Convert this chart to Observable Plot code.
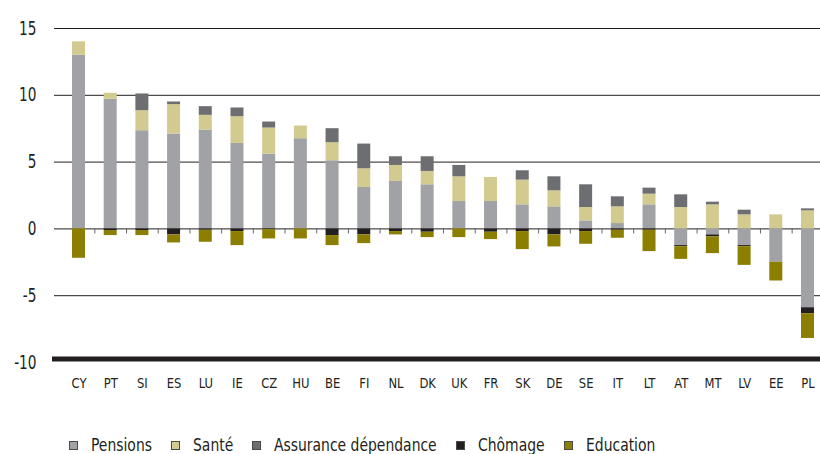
<!DOCTYPE html>
<html>
<head>
<meta charset="utf-8">
<script src="https://cdn.jsdelivr.net/npm/d3@7"></script>
<script src="https://cdn.jsdelivr.net/npm/@observablehq/plot@0.6"></script>
<style>
  html, body { margin: 0; padding: 0; background: #fff; }
  body { width: 820px; height: 454px; overflow: hidden; font-family: 'DejaVu Sans Condensed', 'DejaVu Sans', sans-serif; font-stretch: condensed; color: #231f20; }
  #legend { display: flex; align-items: center; margin-top: 35px; padding-left: 69px; font-size: 18px; line-height: 20px; white-space: nowrap; }
  .item { display: flex; align-items: center; margin-right: 19px; }
  .sw { width: 7px; height: 7px; border: 1px solid #4a4a4a; margin-right: 13px; flex: none; }
  .lbl { display: inline-block; transform-origin: left center; }
</style>
</head>
<body>
<div id="chart"></div>
<div id="legend"></div>
<script>
const categories = ["CY","PT","SI","ES","LU","IE","CZ","HU","BE","FI","NL","DK","UK","FR","SK","DE","SE","IT","LT","AT","MT","LV","EE","PL"];
const pensions  = [13.0, 9.7, 7.35, 7.1, 7.4, 6.4, 5.6, 6.75, 5.1, 3.1, 3.55, 3.3, 2.05, 2.05, 1.8, 1.65, 0.6, 0.4, 1.8, -1.25, -0.45, -1.25, -2.5, -5.9];
const sante     = [1.0, 0.45, 1.5, 2.2, 1.1, 2.0, 1.95, 0.95, 1.35, 1.4, 1.2, 1.0, 1.85, 1.8, 1.85, 1.2, 1.0, 1.25, 0.8, 1.6, 1.8, 1.05, 1.05, 1.35];
const dependance= [0, 0, 1.25, 0.2, 0.65, 0.65, 0.45, 0, 1.05, 1.85, 0.65, 1.1, 0.85, 0, 0.7, 1.05, 1.7, 0.75, 0.45, 0.95, 0.2, 0.35, 0, 0.15];
const chomage   = [0, -0.12, -0.12, -0.45, -0.1, -0.2, -0.05, 0, -0.5, -0.45, -0.2, -0.25, 0, -0.25, -0.2, -0.45, -0.2, -0.1, -0.1, -0.08, -0.15, -0.08, 0, -0.45];
const education = [-2.2, -0.38, -0.38, -0.6, -0.9, -1.05, -0.7, -0.75, -0.75, -0.65, -0.25, -0.4, -0.65, -0.55, -1.35, -0.9, -0.95, -0.6, -1.6, -0.95, -1.25, -1.4, -1.4, -1.85];
const seriesNames = ["Pensions", "Santé", "Assurance dépendance", "Chômage", "Education"];
const seriesColors = ["#a1a2a6", "#d3ca8f", "#6d6e71", "#231f20", "#8c7e00"];
const yTicks = [-10, -5, 0, 5, 10, 15];
const gridLines = [-5, 0, 5, 10, 15];

const seriesValues = [pensions, sante, dependance, chomage, education];
const rows = [];
categories.forEach((c, i) => {
  seriesNames.forEach((s, k) => rows.push({cat: c, serie: s, value: seriesValues[k][i]}));
});

const W = 820, ML = 54, MR = 0, PI = 0.59, PO = 0.3785;
const step = (W - ML - MR) / (categories.length - PI + 2 * PO);

const plot = Plot.plot({
  width: W, height: 400,
  marginLeft: ML, marginRight: MR, marginTop: 28, marginBottom: 38,
  style: {fontFamily: "'DejaVu Sans Condensed', 'DejaVu Sans', sans-serif", fontStretch: "condensed", color: "#231f20", background: "#fff"},
  x: {domain: categories, paddingInner: PI, paddingOuter: PO, align: 0.75, round: false, label: null},
  y: {domain: [-10, 15], label: null},
  color: {domain: seriesNames, range: seriesColors},
  marks: [
    Plot.ruleY(gridLines, {stroke: "#231f20", strokeWidth: 1}),
    Plot.barY(rows, {x: "cat", y: "value", fill: "serie"}),
    Plot.ruleX(categories.slice(0, -1), {x: d => d, y1: 0, y2: -0.38, dx: step / 2, stroke: "#666"}),
    Plot.ruleY([-10], {stroke: "#231f20", strokeWidth: 5, dy: -3.5, insetLeft: -2}),
    Plot.axisY({ticks: yTicks, tickSize: 0, tickPadding: 18, fontSize: 19, tickFormat: d => String(d), label: null}),
    Plot.axisX({tickSize: 0, tickPadding: 16, fontSize: 14, label: null})
  ]
});
document.getElementById("chart").appendChild(plot);

// condense the axis texts horizontally (narrow typeface look)
function condense(sel, k) {
  d3.select(plot).selectAll(sel).each(function() {
    const l = this.getComputedTextLength();
    this.setAttribute("textLength", l * k);
    this.setAttribute("lengthAdjust", "spacingAndGlyphs");
  });
}
condense('g[aria-label="y-axis tick label"] text', 0.8);
condense('g[aria-label="x-axis tick label"] text', 0.92);

const legend = document.getElementById("legend");
const K = 0.86;
seriesNames.forEach((s, k) => {
  const item = document.createElement("div");
  item.className = "item";
  const sw = document.createElement("span");
  sw.className = "sw";
  sw.style.background = seriesColors[k];
  const t = document.createElement("span");
  t.className = "lbl";
  t.textContent = s;
  item.appendChild(sw);
  item.appendChild(t);
  legend.appendChild(item);
  const w = t.getBoundingClientRect().width;
  t.style.transform = `scaleX(${K})`;
  t.style.marginRight = `${-(1 - K) * w}px`;
});
</script>
</body>
</html>
